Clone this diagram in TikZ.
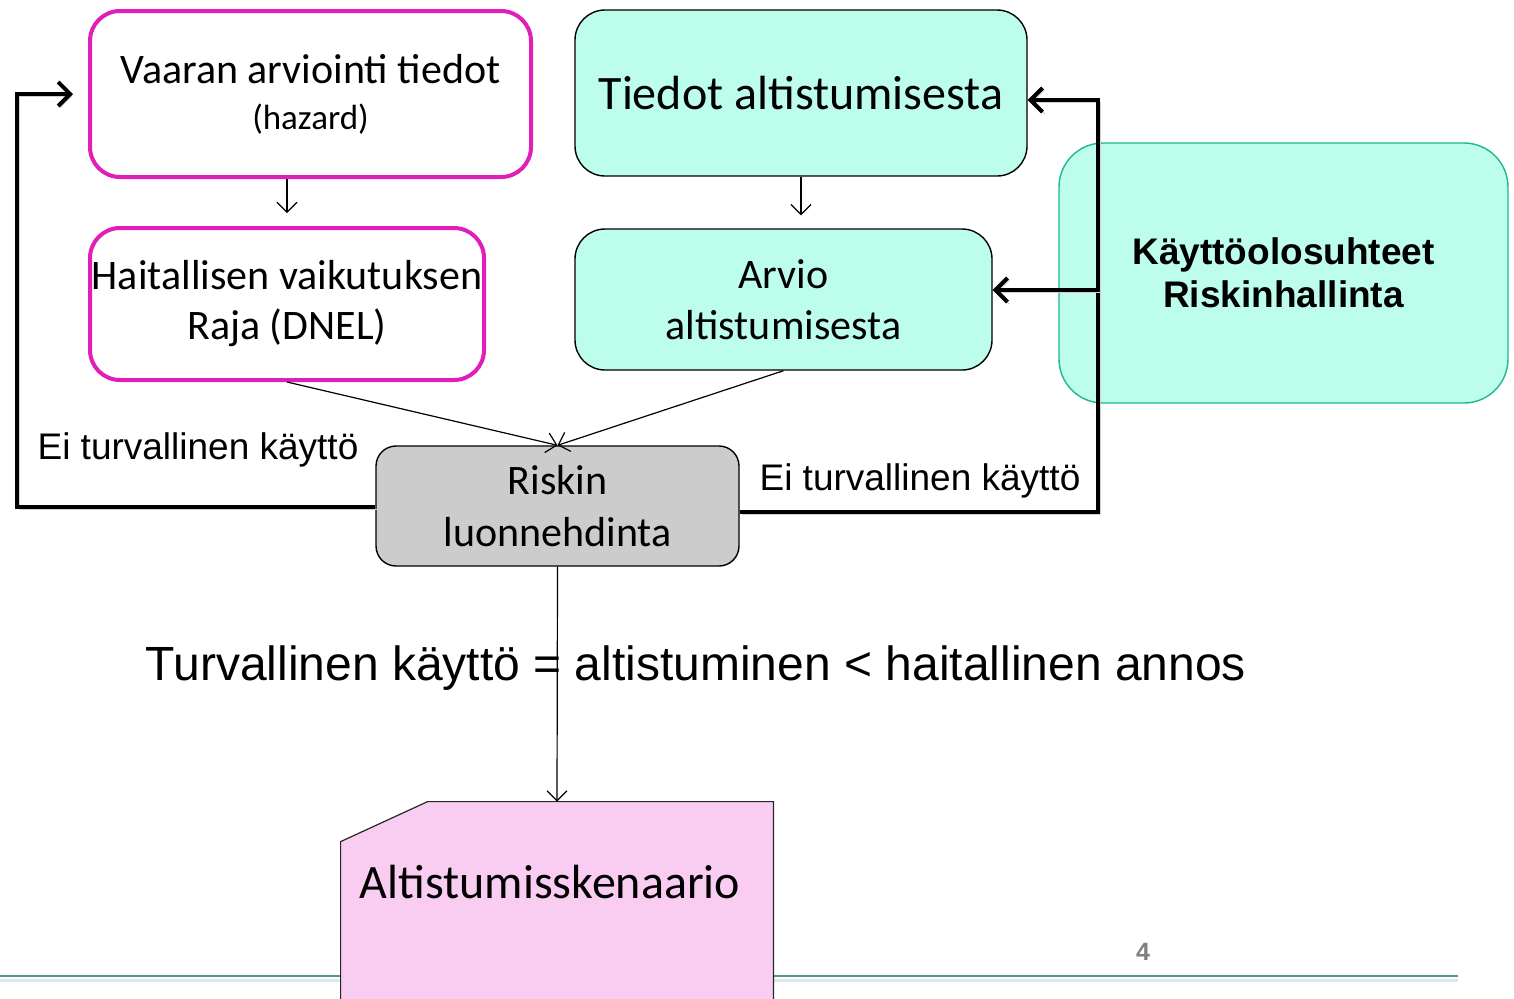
\documentclass[tikz,border=0pt]{standalone}
\usepackage{fontspec}
\setmainfont{Carlito}
\newfontfamily\arialfont{Liberation Sans}
\usetikzlibrary{arrows.meta,positioning,calc}
\definecolor{HazMagenta}{HTML}{E01FB9}
\definecolor{ExpMint}{HTML}{BCFDEB}
\definecolor{ExpGreen}{HTML}{1FB890}
\definecolor{RiskGray}{HTML}{CCCCCC}
\definecolor{ScenPink}{HTML}{F9CDF1}
\definecolor{SlideTeal}{HTML}{4F9894}
\definecolor{PageGray}{HTML}{7F7F7F}
\begin{document}
\begin{tikzpicture}[x=0.5pt,y=-0.5pt,
  hazbox/.style={draw=HazMagenta,line width=2pt,rounded corners=15pt,
    fill=white,align=center,inner sep=0pt},
  expbox/.style={draw=black,line width=0.7pt,fill=ExpMint,rounded corners=15pt,
    align=center,inner sep=0pt},
  flow/.style={-{Straight Barb[length=5pt,width=10pt]},line width=0.6pt},
  feedback/.style={-{Straight Barb[length=6pt,width=12pt]},line width=2pt,
    preaction={draw=black!18,transform canvas={shift={(1pt,-1pt)}}}}]
  \useasboundingbox (0,0) rectangle (1514,998);
  \clip (0,0) rectangle (1514,998);
  \draw[SlideTeal!20,line width=1.5pt] (0,980) -- (1458,980);
  \draw[SlideTeal,line width=1.1pt] (0,976) -- (1458,976);
  \node[PageGray,font=\arialfont\bfseries\fontsize{12.5}{14}\selectfont] (page) at (1143,952) {4};

  \node[hazbox,minimum width=220.5pt,minimum height=83pt,
        font=\fontsize{21}{23}\selectfont] (hazard) at (310.5,94)
    {Vaaran arviointi tiedot\\
     \fontsize{17.5}{23}\selectfont (hazard)};
  \node[hazbox,minimum width=197pt,minimum height=76pt,
        font=\fontsize{21}{25}\selectfont] (dnel) at (287,304)
    {Haitallisen vaikutuksen\\Raja (DNEL)};
  \node[expbox,minimum width=226pt,minimum height=83pt,
        font=\fontsize{24}{28}\selectfont] (expdata) at (801,93)
    {Tiedot altistumisesta};
  \node[expbox,minimum width=208.5pt,minimum height=70.5pt,
        font=\fontsize{21}{25.5}\selectfont] (expest) at (783.5,299.5)
    {Arvio\\altistumisesta};
  \node[draw=ExpGreen,line width=0.7pt,fill=ExpMint,rounded corners=22pt,
        minimum width=224.5pt,minimum height=130pt,inner sep=0pt,align=center,
        font=\arialfont\bfseries\fontsize{18.5}{21.5}\selectfont] (conditions) at (1283.5,273)
    {Käyttöolosuhteet\\Riskinhallinta};
  \node[draw=black,line width=0.7pt,fill=RiskGray,rounded corners=10pt,
        minimum width=181.5pt,minimum height=60pt,inner sep=0pt,align=center,
        font=\fontsize{21}{26}\selectfont] (risk) at (557.5,506)
    {Riskin\\luonnehdinta};
  \node[minimum width=216pt,minimum height=104pt,inner sep=0pt] (scenario) at (557,906) {};
  \filldraw[fill=ScenPink,draw=black!85,line width=0.6pt]
    (scenario.south west) -- ($(scenario.north west)+(0,40)$)
    -- ($(scenario.north west)+(87,0)$) -- (scenario.north east)
    -- (scenario.south east) -- cycle;
  \node[font=\fontsize{24}{28}\selectfont] (scentext) at (550,882) {Altistumisskenaario};

  \draw[flow,shorten >=6.5pt] (hazard.south -| dnel.north) -- (dnel.north);
  \draw[flow,shorten >=6.5pt] (expdata.south) -- (expdata.south |- expest.north);
  \draw[flow] (dnel.south) -- (risk.north);
  \draw[flow] (expest.south) -- (risk.north);
  \draw[flow] (risk.south) -- (scenario.north);

  \coordinate (lcorner) at (17,507);
  \coordinate (rcorner) at (1098,100);
  \coordinate (rbranch) at (1098,290);
  \draw[feedback,shorten >=7.5pt] (risk.west |- lcorner) -- (lcorner) |- (hazard.west);
  \draw[feedback] ([yshift=-3pt]risk.east) -| (rcorner) -- (rcorner -| expdata.east);
  \draw[feedback] (rbranch) -- (rbranch -| expest.east);

  \node[font=\arialfont\fontsize{18.5}{22}\selectfont] (unsafeL) at (198,450) {Ei turvallinen käyttö};
  \node[font=\arialfont\fontsize{18.5}{22}\selectfont] (unsafeR) at (920,481) {Ei turvallinen käyttö};
  \node[font=\arialfont\fontsize{24}{28}\selectfont] (rule) at (696,668)
    {Turvallinen käyttö = altistuminen < haitallinen annos};
\end{tikzpicture}
\end{document}
